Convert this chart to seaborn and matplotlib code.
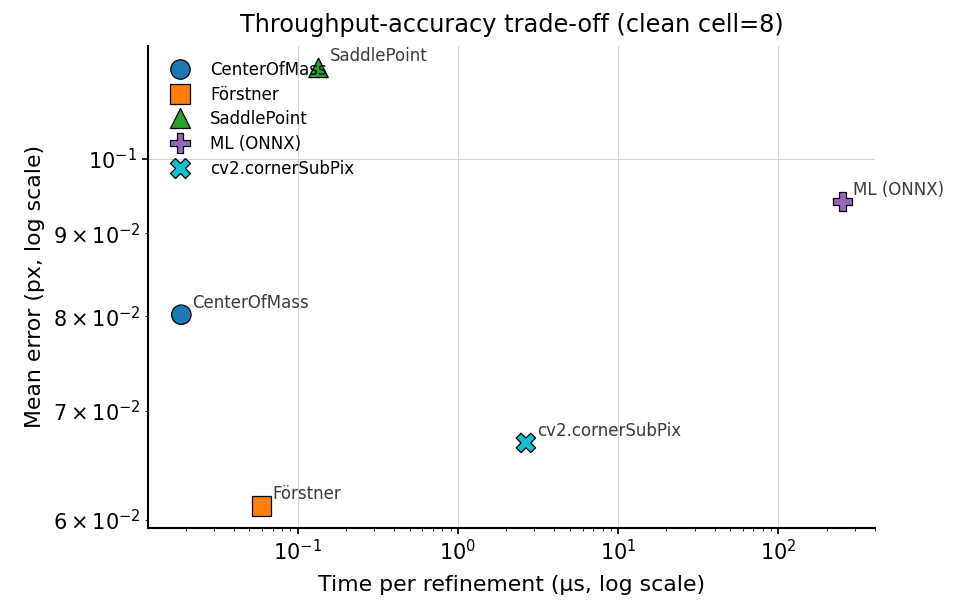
import numpy as np
import pandas as pd
import matplotlib
matplotlib.use('Agg')
import matplotlib.pyplot as plt
import seaborn as sns

# -----------------------

methods = ['CenterOfMass', 'Förstner', 'SaddlePoint', 'ML (ONNX)', 'cv2.cornerSubPix']
time_us = [0.0188, 0.0596, 0.135, 251.0, 2.66]
mean_err = [0.0802, 0.0612, 0.1137, 0.0941, 0.0669]

colors = ['#1f77b4', '#ff7f0e', '#2ca02c', '#9467bd', '#17becf']
markers = ['o', 's', '^', 'P', 'X']

df = pd.DataFrame({'method': methods, 'time': time_us, 'err': mean_err})

# -----------------------

plt.rcParams['font.family'] = ['DejaVu Sans']
plt.rcParams['axes.linewidth'] = 1.5
plt.rcParams['xtick.major.width'] = 1.2
plt.rcParams['ytick.major.width'] = 1.2
plt.rcParams['xtick.major.size'] = 4.5
plt.rcParams['ytick.major.size'] = 4.5

fig, ax = plt.subplots(figsize=(9.63, 6.13), dpi=100)

sns.scatterplot(data=df, x='time', y='err', hue='method', style='method',
	hue_order=methods, style_order=methods, palette=colors, markers=markers,
	s=195, edgecolor='black', linewidth=0.9, ax=ax, zorder=3)

for _, r in df.iterrows():
	ax.annotate(r['method'], (r['time'], r['err']), xytext=(8, 5),
		textcoords='offset points', fontsize=12, color='#3a3a3a')

ax.set_xscale('log')
ax.set_yscale('log')
ax.grid(True, which='major', color='#d6d6d6', lw=0.8)
ax.set_axisbelow(True)

ax.set_title('Throughput-accuracy trade-off (clean cell=8)', fontsize=17.3, pad=10)
ax.set_xlabel('Time per refinement (µs, log scale)', fontsize=15.8, labelpad=8)
ax.set_ylabel('Mean error (px, log scale)', fontsize=15.8, labelpad=6)
ax.tick_params(axis='both', which='both', labelsize=15)

leg = ax.legend(loc='upper left', frameon=False, fontsize=12, labelspacing=0.4)
leg.set_title(None)

sns.despine(ax=ax)

fig.subplots_adjust(left=0.154, right=0.909, top=0.925, bottom=0.139)
plt.savefig('out.png', dpi=100)
